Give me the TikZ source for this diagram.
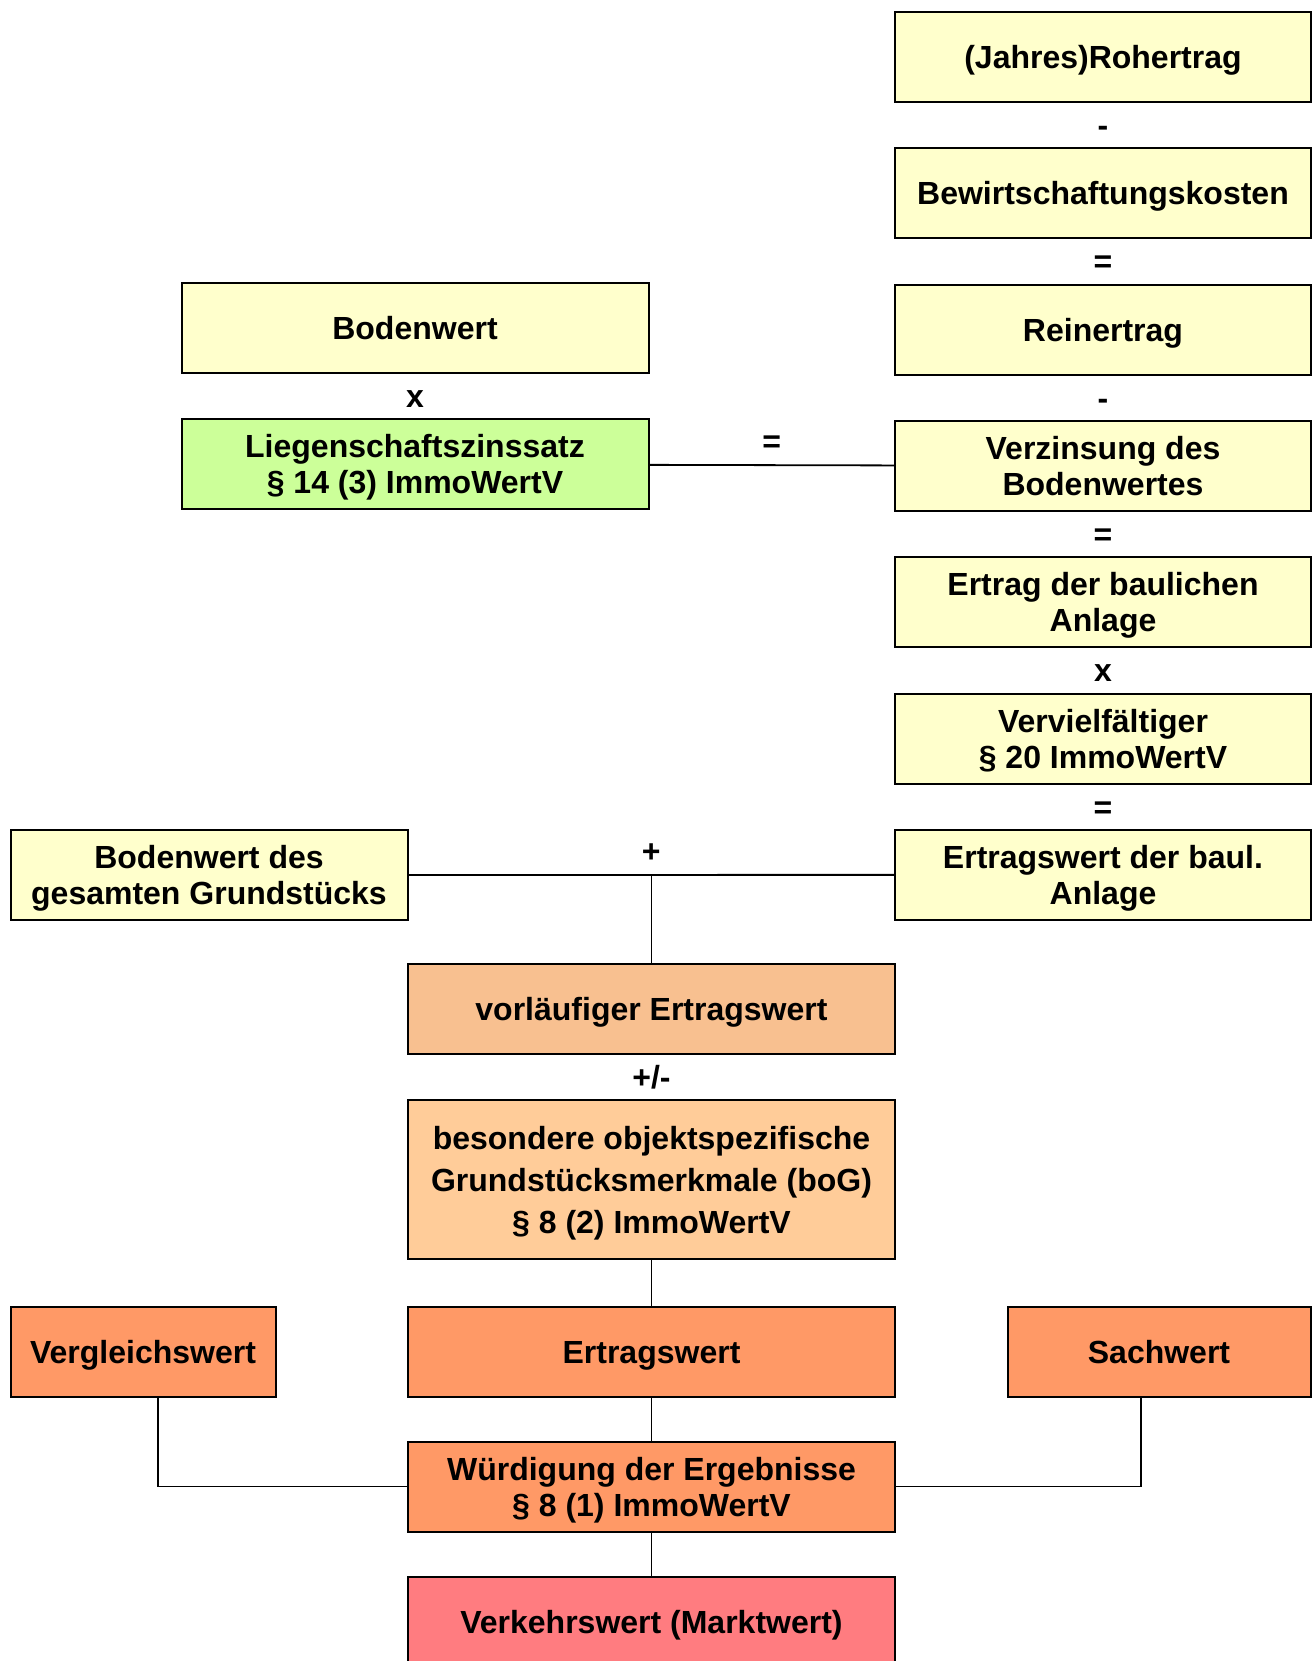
\documentclass[tikz,border=0pt]{standalone}
\usepackage{fontspec}
\setmainfont{Liberation Sans}
\usetikzlibrary{positioning,calc}

\definecolor{gelb}{HTML}{FFFFCC}
\definecolor{gruen}{HTML}{CCFF99}
\definecolor{pfirsich}{HTML}{F8C090}
\definecolor{hellorange}{HTML}{FFCC99}
\definecolor{orangeton}{HTML}{FF9966}
\definecolor{rotton}{HTML}{FF7C80}

\tikzset{
  box/.style={draw,line width=1pt,align=center,minimum height=45pt,inner sep=0pt,
    text height=11.5pt,text depth=0pt,font=\fontsize{16}{18}\selectfont\bfseries},
  zwei/.style={text height=29.5pt},
  op/.style={font=\fontsize{16}{18}\selectfont\bfseries,inner sep=0pt,
    text height=11.5pt,text depth=0pt},
  verb/.style={line width=0.9pt},
  rechts/.style={box,fill=gelb,minimum width=208pt},
  mitte/.style={box,minimum width=243.5pt}
}

\begin{document}
\begin{tikzpicture}[x=0.5pt,y=-0.5pt,node distance=68.15pt]
    \useasboundingbox (0,0) rectangle (1316,1661);
    % Ertragskette rechts
    \node[rechts] (roh) at (1103,57) {(Jahres)Rohertrag};
    \node[rechts,below of=roh] (bew) {Bewirtschaftungskosten};
    \node[rechts,below of=bew] (rein) {Reinertrag};
    \node[rechts,zwei,below of=rein] (verz) {Verzinsung des\\Bodenwertes};
    \node[rechts,zwei,below of=verz] (ebA) {Ertrag der baulichen\\Anlage};
    \node[rechts,zwei,below of=ebA] (verv) {Vervielfältiger\\§ 20 ImmoWertV};
    \node[rechts,zwei,below of=verv] (ewA) {Ertragswert der baul.\\Anlage};
    % Bodenwert links
    \node[box,fill=gelb,minimum width=233.5pt] (bw) at (415,328) {Bodenwert};
    \node[box,zwei,fill=gruen,minimum width=233.5pt,below of=bw] (lzs) {Liegenschaftszinssatz\\§ 14 (3) ImmoWertV};
    \node[box,zwei,fill=gelb,minimum width=198.5pt] (bwg) at (209,875) {Bodenwert des\\gesamten Grundstücks};
    % Mitte
    \node[mitte,fill=pfirsich] (vew) at (651.5,1009) {vorläufiger Ertragswert};
    \node[mitte,fill=hellorange,minimum height=79.5pt,text height=53.5pt,
      font=\fontsize{16}{21}\selectfont\bfseries] (bog) at (651.5,1179.5)
      {besondere objektspezifische\\Grundstücksmerkmale (boG)\\§ 8 (2) ImmoWertV};
    \node[mitte,fill=orangeton] (ew) at (651.5,1351.5) {Ertragswert};
    \node[box,fill=orangeton,minimum width=132.5pt] (vgl) at (143,1351.5) {Vergleichswert};
    \node[box,fill=orangeton,minimum width=151.5pt] (sw) at (1159,1351.5) {Sachwert};
    \node[mitte,zwei,fill=orangeton] (wue) at (651.5,1486.5) {Würdigung der Ergebnisse\\§ 8 (1) ImmoWertV};
    \node[mitte,fill=rotton] (vkw) at (651.5,1622) {Verkehrswert (Marktwert)};

    %% Rechenzeichen
    \node[op] (m1) at ($(roh.south)!0.5!(bew.north)$) {-};
    \node[op] (g1) at ($(bew.south)!0.5!(rein.north)$) {=};
    \node[op] (m2) at ($(rein.south)!0.5!(verz.north)$) {-};
    \node[op] (g2) at ($(verz.south)!0.5!(ebA.north)$) {=};
    \node[op] (x2) at ($(ebA.south)!0.5!(verv.north)$) {x};
    \node[op] (g3) at ($(verv.south)!0.5!(ewA.north)$) {=};
    \node[op] (x1) at ($(bw.south)!0.5!(lzs.north)$) {x};
    \node[op] (pm) at ($(vew.south)!0.5!(bog.north)$) {+/-};

    %% Verbindungen
    \draw[verb] (lzs) -- node[op,above=6pt] (g4) {=} (verz);
    \draw[verb] (bwg) -- node[op,above=6pt] (pl) {+} (ewA);
    \coordinate (kp) at (vew.north |- bwg.east);
    \draw[verb] (kp) -- (vew);
    \draw[verb] (bog) -- (ew);
    \draw[verb] (ew) -- (wue);
    \draw[verb] (wue) -- (vkw);
    \draw[verb] ([xshift=7.5pt]vgl.south) |- (wue.west);
    \draw[verb] ([xshift=-9pt]sw.south) |- (wue.east);
\end{tikzpicture}
\end{document}
